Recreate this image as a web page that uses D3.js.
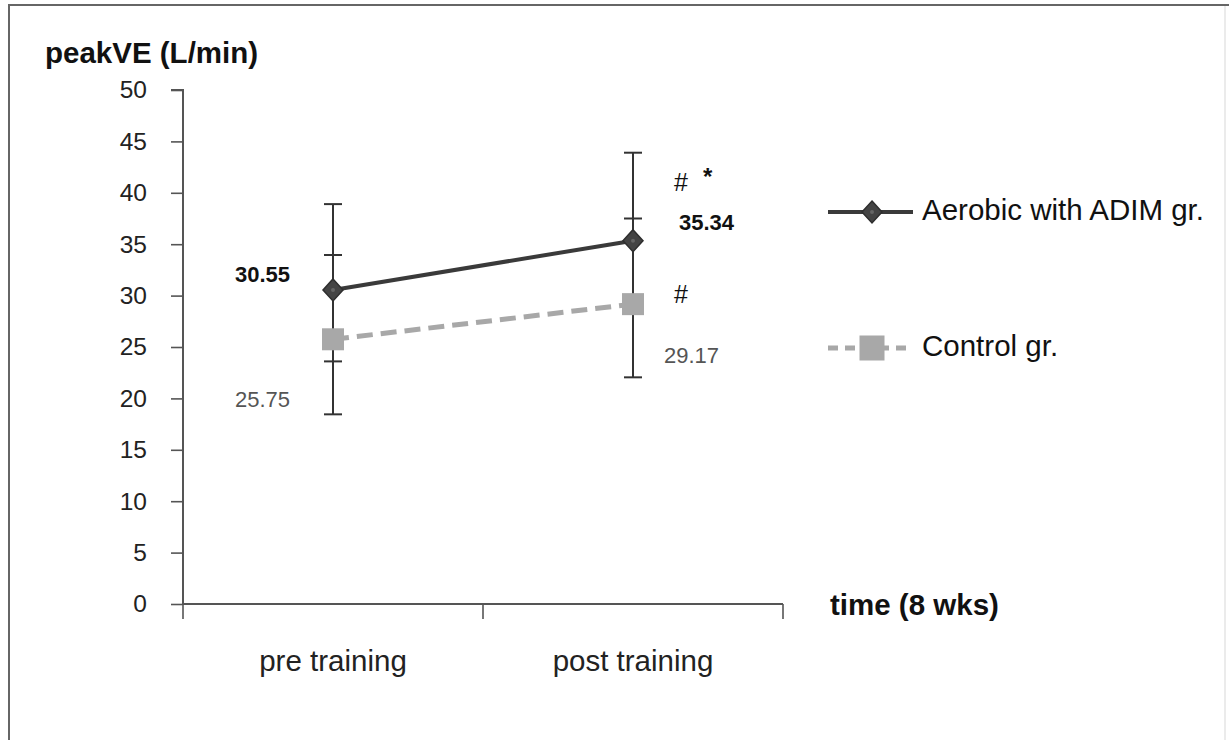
<!DOCTYPE html>
<html><head><meta charset="utf-8">
<script src="https://cdn.jsdelivr.net/npm/d3@7"></script>
<style>
html,body{margin:0;padding:0;background:#fff;}
svg{display:block;font-family:"Liberation Sans",Arial,sans-serif;}
</style></head>
<body><svg id="c" width="1229" height="740"></svg>
<script>
const categories = ["pre training", "post training"];
const aerobic = [30.55, 35.34];
const control = [25.75, 29.17];
const aerobicUpper = [38.9, 43.9];
const aerobicLower = [23.6, 28.4];
const controlUpper = [33.95, 37.5];
const controlLower = [18.45, 22.05];
const yTicks = [0, 5, 10, 15, 20, 25, 30, 35, 40, 45, 50];
const seriesNames = ["Aerobic with ADIM gr.", "Control gr."];
const aerobicLabels = ["30.55", "35.34"];
const controlLabels = ["25.75", "29.17"];

const svg = d3.select("#c");
const dark = "#3a3a3a", grey = "#a8a8a8", axisCol = "#555";

// frame
svg.append("path").attr("d","M9,740 V5 H1229").attr("fill","none").attr("stroke","#666").attr("stroke-width",2);
svg.append("line").attr("x1",1225).attr("x2",1225).attr("y1",6).attr("y2",740).attr("stroke","#e4e4e4").attr("stroke-width",1.5);

const x = d3.scaleBand().domain(categories).range([183, 783]).paddingInner(0).paddingOuter(0);
const y = d3.scaleLinear().domain([0, 50]).range([604, 90]);
const cx = d => x(d) + x.bandwidth() / 2;

// y axis
const ya = svg.append("g").attr("transform", "translate(183,0)")
  .call(d3.axisLeft(y).tickValues(yTicks).tickSize(12).tickPadding(24).tickFormat(d3.format("d")));
ya.select(".domain").attr("stroke", axisCol).attr("stroke-width", 2).attr("d", `M-12,${y(50)}H0V${y(0)}`);
ya.selectAll(".tick line").attr("stroke", axisCol).attr("stroke-width", 1.6);
ya.selectAll(".tick text").attr("font-size", 24.5).attr("fill", "#222").attr("font-family", "Liberation Sans, Arial, sans-serif");

// x axis
const xa = svg.append("g").attr("transform", `translate(0,${y(0)})`)
  .call(d3.axisBottom(x).tickSize(0).tickPadding(46));
xa.select(".domain").attr("stroke", axisCol).attr("stroke-width", 2).attr("d", `M${x.range()[0]},0H${x.range()[1]}`);
xa.selectAll(".tick text").attr("font-size", 29.5).attr("fill", "#222").attr("font-family", "Liberation Sans, Arial, sans-serif");
const bounds = [x(categories[0])].concat(categories.map(c => x(c) + x.bandwidth()));
svg.append("g").selectAll("line").data(bounds).join("line")
  .attr("x1", d => d).attr("x2", d => d).attr("y1", y(0)).attr("y2", y(0) + 15)
  .attr("stroke", axisCol).attr("stroke-width", 1.6);

// axis titles
svg.append("text").attr("x", 45).attr("y", 63).attr("font-size", 29.5).attr("font-weight", "bold").attr("fill", "#111").text("peakVE (L/min)");
svg.append("text").attr("x", 830).attr("y", 615).attr("font-size", 29.5).attr("font-weight", "bold").attr("fill", "#111").text("time (8 wks)");

// error bars
function errBars(up, lo) {
  const g = svg.append("g");
  categories.forEach((c, i) => {
    g.append("line").attr("x1", cx(c)).attr("x2", cx(c)).attr("y1", y(up[i])).attr("y2", y(lo[i])).attr("stroke", "#333").attr("stroke-width", 2);
    [up[i], lo[i]].forEach(v => g.append("line").attr("x1", cx(c) - 9).attr("x2", cx(c) + 9).attr("y1", y(v)).attr("y2", y(v)).attr("stroke", "#333").attr("stroke-width", 2));
  });
}
errBars(aerobicUpper, aerobicLower);
errBars(controlUpper, controlLower);

// lines
const line = d3.line().x((d, i) => cx(categories[i])).y(d => y(d));
svg.append("path").datum(control).attr("d", line).attr("fill", "none").attr("stroke", grey).attr("stroke-width", 5).attr("stroke-dasharray", "16,8");
svg.append("path").datum(aerobic).attr("d", line).attr("fill", "none").attr("stroke", dark).attr("stroke-width", 4);

function diamond(g, px, py, w, h) {
  g.append("path").attr("d", `M${px},${py - h}L${px + w},${py}L${px},${py + h}L${px - w},${py}Z`)
    .attr("fill", "#444").attr("stroke", "#2e2e2e").attr("stroke-width", 1.5);
  g.append("circle").attr("cx", px).attr("cy", py).attr("r", 2).attr("fill", "#666");
}
function square(g, px, py, s) {
  g.append("rect").attr("x", px - s / 2).attr("y", py - s / 2).attr("width", s).attr("height", s).attr("fill", grey);
}
const mk = svg.append("g");
control.forEach((v, i) => square(mk, cx(categories[i]), y(v), 22));
aerobic.forEach((v, i) => diamond(mk, cx(categories[i]), y(v), 10, 11));

// data labels
const lab = svg.append("g").attr("font-size", 22);
lab.append("text").attr("x", cx(categories[0]) - 98).attr("y", y(aerobic[0]) - 8).attr("font-weight", "bold").attr("fill", "#111").text(aerobicLabels[0]);
lab.append("text").attr("x", cx(categories[0]) - 98).attr("y", y(control[0]) + 68).attr("fill", "#555").text(controlLabels[0]);
lab.append("text").attr("x", cx(categories[1]) + 46).attr("y", y(aerobic[1]) - 11).attr("font-weight", "bold").attr("fill", "#111").text(aerobicLabels[1]);
lab.append("text").attr("x", cx(categories[1]) + 31).attr("y", y(control[1]) + 59).attr("fill", "#555").text(controlLabels[1]);
lab.append("text").attr("x", cx(categories[1]) + 41).attr("y", 191).attr("font-size", 25).attr("fill", "#111").text("#");
lab.append("text").attr("x", cx(categories[1]) + 70).attr("y", 185).attr("font-size", 24).attr("font-weight", "bold").attr("fill", "#111").text("*");
lab.append("text").attr("x", cx(categories[1]) + 41).attr("y", y(control[1]) - 1).attr("font-size", 25).attr("fill", "#111").text("#");

// legend
const lg = svg.append("g");
const legY = [212, 348];
lg.append("line").attr("x1", 828).attr("x2", 913).attr("y1", legY[0]).attr("y2", legY[0]).attr("stroke", dark).attr("stroke-width", 4);
diamond(lg, 872, legY[0], 10, 11);
lg.append("line").attr("x1", 828).attr("x2", 913).attr("y1", legY[1]).attr("y2", legY[1]).attr("stroke", grey).attr("stroke-width", 5).attr("stroke-dasharray", "10,7");
square(lg, 872, legY[1], 25);
seriesNames.forEach((n, i) => lg.append("text").attr("x", 922).attr("y", legY[i] + 8).attr("font-size", 29.5).attr("fill", "#111").text(n));
</script></body></html>
